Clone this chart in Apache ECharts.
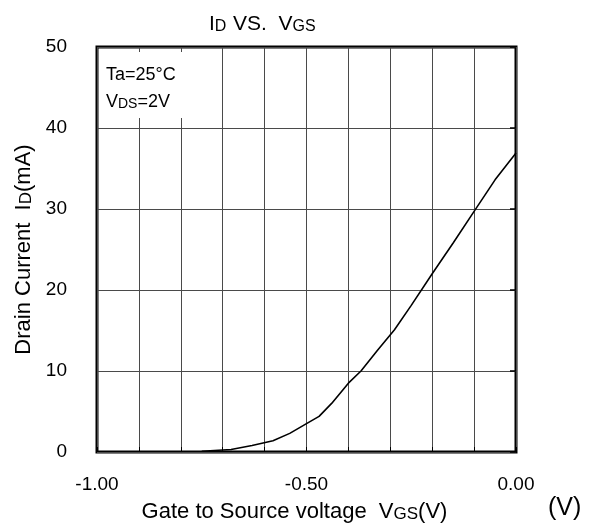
<!DOCTYPE html>
<html>
<head>
<meta charset="utf-8">
<script src="https://cdn.jsdelivr.net/npm/echarts@6/dist/echarts.min.js"></script>
<style>
html,body{margin:0;padding:0;background:#fff;}
#chart{width:596px;height:528px;}
</style>
</head>
<body>
<div id="chart"></div>
<script>
// Data
var vgs = [-0.75, -0.68, -0.63, -0.58, -0.54, -0.50, -0.47, -0.44, -0.40, -0.37, -0.33, -0.29, -0.25, -0.20, -0.15, -0.10, -0.05, 0.00];
var idCurrent = [0.1, 0.3, 0.8, 1.4, 2.3, 3.5, 4.4, 6.0, 8.5, 10.0, 12.6, 15.1, 18.1, 22.0, 25.8, 29.7, 33.6, 36.9];
var xTickValues = [-1.0, -0.5, 0.0];
var xTickLabels = ['-1.00', '-0.50', '0.00'];
var yTickValues = [0, 10, 20, 30, 40, 50];

var FONT = '"Liberation Sans", Arial, sans-serif';
var points = vgs.map(function (v, i) { return [v, idCurrent[i]]; });

function xLabel(value) {
  for (var i = 0; i < xTickValues.length; i++) {
    if (Math.abs(value - xTickValues[i]) < 1e-6) return xTickLabels[i];
  }
  return '';
}

var chart = echarts.init(document.getElementById('chart'), null, {renderer: 'canvas'});
var gridLine = {show: true, lineStyle: {color: '#4a4a4a', width: 1}};

chart.setOption({
  animation: false,
  backgroundColor: '#fff',
  textStyle: {fontFamily: FONT},
  grid: {left: 97, right: 80, top: 47, bottom: 76, show: true, borderColor: '#000', borderWidth: 3, backgroundColor: 'transparent'},
  xAxis: [{
    type: 'value', min: -1, max: 0, interval: 0.1,
    axisLine: {show: false},
    axisTick: {show: false},
    splitLine: gridLine,
    axisLabel: {formatter: xLabel, color: '#000', fontSize: 19, fontFamily: FONT, margin: 23, showMinLabel: true, showMaxLabel: true},
    name: '{b|Gate to Source voltage  V}{s|GS}{b|(V)}',
    nameLocation: 'middle',
    nameGap: 47,
    nameTextStyle: {
      padding: [0, 24, 0, 0],
      rich: {
        b: {fontSize: 22, fontFamily: FONT, color: '#000', verticalAlign: 'bottom', lineHeight: 24},
        s: {fontSize: 17, fontFamily: FONT, color: '#000', verticalAlign: 'bottom', lineHeight: 22}
      }
    }
  }, {
    type: 'value', min: -1, max: 0, interval: 0.1, position: 'bottom',
    axisLine: {show: false}, axisLabel: {show: false}, splitLine: {show: false},
    axisTick: {show: true, inside: true, length: 5, lineStyle: {color: '#000', width: 1}}
  }],
  yAxis: [{
    type: 'value', min: 0, max: 50, interval: 10,
    axisLine: {show: false},
    axisTick: {show: false},
    splitLine: gridLine,
    axisLabel: {color: '#000', fontSize: 19, fontFamily: FONT, margin: 30},
    name: '{b|Drain Current  I}{s|D}{b|(mA)}',
    nameLocation: 'middle',
    nameGap: 61,
    nameTextStyle: {
      rich: {
        b: {fontSize: 22, fontFamily: FONT, color: '#000', verticalAlign: 'bottom', lineHeight: 24},
        s: {fontSize: 17, fontFamily: FONT, color: '#000', verticalAlign: 'bottom', lineHeight: 22}
      }
    }
  }, {
    type: 'value', min: 0, max: 50, interval: 10, position: 'right',
    axisLine: {show: false}, axisLabel: {show: false}, splitLine: {show: false},
    axisTick: {show: true, inside: true, length: 6, lineStyle: {color: '#000', width: 1.5}}
  }],
  graphic: [
    {
      type: 'rect', left: 99, top: 52, z: 10,
      shape: {width: 85, height: 66},
      style: {fill: '#fff'}
    },
    {
      type: 'text', left: 106, top: 66, z: 11,
      style: {text: 'Ta=25\u00B0C', font: '18px ' + FONT, fill: '#000'}
    },
    {
      type: 'text', left: 106, top: 93, z: 11,
      style: {
        text: '{b|V}{s|DS}{b|=2V}',
        rich: {
          b: {fontSize: 18, fontFamily: FONT, fill: '#000', verticalAlign: 'bottom', lineHeight: 20},
          s: {fontSize: 14, fontFamily: FONT, fill: '#000', verticalAlign: 'bottom', lineHeight: 18}
        }
      }
    },
    {
      type: 'text', left: 209, top: 14, z: 11,
      style: {
        text: '{b|I}{s|D}  {b|VS.  V}{s|GS}',
        rich: {
          b: {fontSize: 21, fontFamily: FONT, fill: '#000', verticalAlign: 'bottom', lineHeight: 22},
          s: {fontSize: 16, fontFamily: FONT, fill: '#000', verticalAlign: 'bottom', lineHeight: 20}
        }
      }
    },
    {
      type: 'text', left: 548, top: 496, z: 11,
      style: {text: '(V)', font: '25px ' + FONT, fill: '#000'}
    }
  ],
  series: [{
    type: 'line',
    data: points,
    showSymbol: false,
    smooth: false,
    lineStyle: {color: '#000', width: 1.6},
    z: 5
  }]
});
</script>
</body>
</html>
